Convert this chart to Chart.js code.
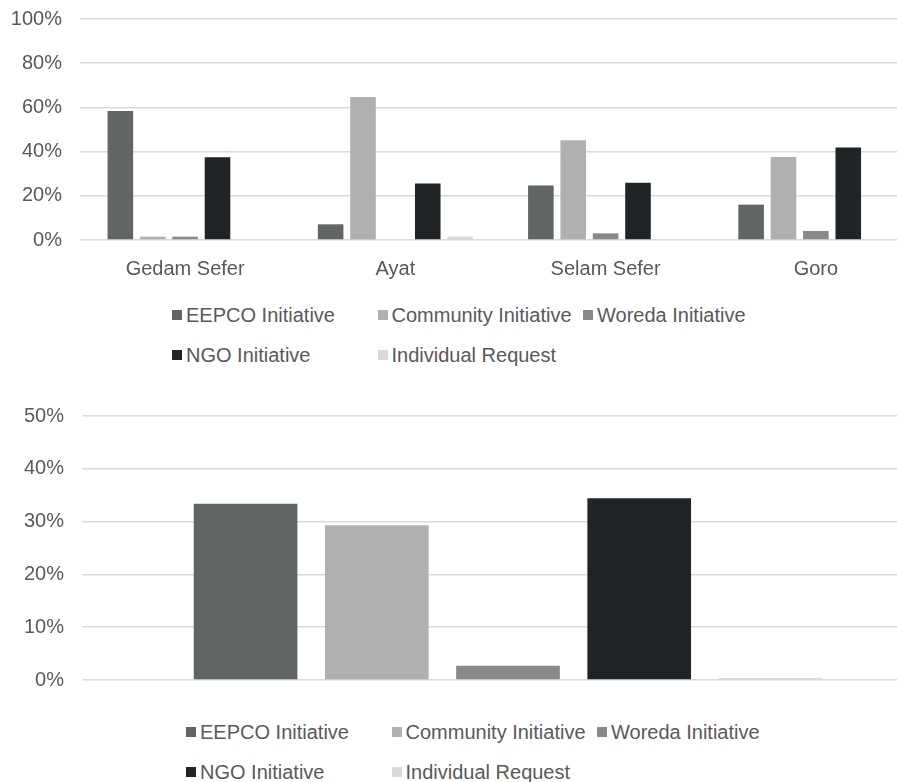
<!DOCTYPE html>
<html>
<head>
<meta charset="utf-8">
<script src="https://cdn.jsdelivr.net/npm/chart.js@4.4.1/dist/chart.umd.min.js"></script>
<style>
  body { margin: 0; background: #fff; overflow: hidden; width: 897px; height: 782px; position: relative;
         font-family: "Liberation Sans", Arial, sans-serif; }
  .wrap { position: absolute; left: 0; }
  .legend { position: absolute; display: grid; grid-template-columns: repeat(3, 205.5px); grid-auto-rows: 40px;
            color: #595959; font-size: 20px; }
  .legend .item { display: flex; align-items: center; white-space: nowrap; }
  .legend i { display: inline-block; width: 10px; height: 10px; margin-right: 4px; }
</style>
</head>
<body>
<div class="wrap" style="top:0"><canvas id="areaChart" width="924" height="285"></canvas></div>
<div class="legend" id="areaLegend" style="left:172px; top:295px"></div>
<div class="wrap" style="top:380px"><canvas id="totalChart" width="936" height="320"></canvas></div>
<div class="legend" id="totalLegend" style="left:186px; top:712px"></div>
<script>
// Zonas del estudio
const categories = ['Gedam Sefer', 'Ayat', 'Selam Sefer', 'Goro'];

// Origen de la conexión eléctrica
const seriesNames = ['EEPCO Initiative', 'Community Initiative', 'Woreda Initiative', 'NGO Initiative', 'Individual Request'];
const seriesColors = ['#626566', '#aeb0b1', '#87898b', '#212426', '#d9d9d9'];

// Porcentajes por zona
const eepco = [58.4, 7.1, 24.7, 16.0];
const community = [1.5, 64.7, 45.1, 37.6];
const woreda = [1.5, 0, 3.0, 4.1];
const ngo = [37.4, 25.6, 25.9, 41.8];
const individual = [0, 1.5, 0, 0];

// Porcentajes del total
const overall = [33.4, 29.3, 2.7, 34.4, 0.4];

// Ticks del eje Y
const areaTicks = { max: 100, step: 20 };
const totalTicks = { max: 50, step: 10 };

Chart.defaults.font.family = '"Liberation Sans", Arial, sans-serif';
Chart.defaults.font.size = 20;
Chart.defaults.color = '#595959';
Chart.defaults.animation = false;

// El área del gráfico la fija solo layout.padding
function yScale(t) {
    return {
        min: 0,
        max: t.max,
        ticks: { stepSize: t.step, padding: 18, callback: v => v + '%' },
        grid: { color: '#d9d9d9', lineWidth: 1.5, drawTicks: false },
        border: { display: false },
        afterFit: scale => {
            scale.width = 80;
            scale.paddingTop = 0;
            scale.paddingBottom = 0;
        }
    };
}

const commonPlugins = { legend: { display: false }, tooltip: { enabled: false } };

// Gráfico por zona
const areaSeries = [eepco, community, woreda, ngo, individual];
new Chart(document.getElementById('areaChart').getContext('2d'), {
    type: 'bar',
    data: {
        labels: categories,
        datasets: seriesNames.map((name, i) => ({
            label: name,
            data: areaSeries[i],
            backgroundColor: seriesColors[i],
            categoryPercentage: 0.77,
            barPercentage: 0.79
        }))
    },
    options: {
        responsive: false,
        layout: { padding: { top: 19, right: 3, left: 0, bottom: 0 } },
        plugins: commonPlugins,
        scales: {
            x: {
                grid: { display: false },
                border: { display: false },
                ticks: { padding: 9 },
                afterFit: scale => {
                    scale.height = 45;
                    scale.paddingLeft = 0;
                    scale.paddingRight = 0;
                }
            },
            y: yScale(areaTicks)
        }
    }
});

// Gráfico del total
new Chart(document.getElementById('totalChart').getContext('2d'), {
    type: 'bar',
    data: {
        labels: [''],
        datasets: seriesNames.map((name, i) => ({
            label: name,
            data: [overall[i]],
            backgroundColor: seriesColors[i],
            categoryPercentage: 0.77,
            barPercentage: 0.79
        }))
    },
    options: {
        responsive: false,
        layout: { padding: { top: 36, right: 2, left: 2, bottom: 20 } },
        plugins: commonPlugins,
        scales: {
            x: { display: false },
            y: yScale(totalTicks)
        }
    }
});

// Leyendas en cuadrícula de tres columnas
function buildLegend(id) {
    const el = document.getElementById(id);
    seriesNames.forEach((name, i) => {
        const item = document.createElement('span');
        item.className = 'item';
        const sw = document.createElement('i');
        sw.style.background = seriesColors[i];
        item.appendChild(sw);
        item.appendChild(document.createTextNode(name));
        el.appendChild(item);
    });
}
buildLegend('areaLegend');
buildLegend('totalLegend');
</script>
</body>
</html>
